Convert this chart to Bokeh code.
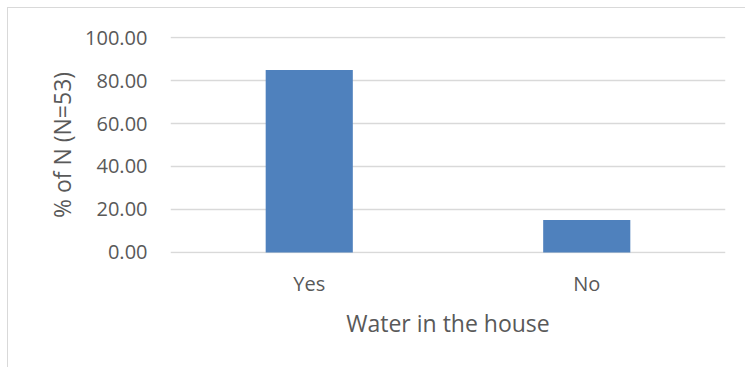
from bokeh.plotting import figure
from bokeh.models import ColumnDataSource, Range1d, FactorRange, NumeralTickFormatter, FixedTicker
from bokeh.embed import file_html
from bokeh.resources import INLINE

# Survey answers: share of respondents (N=53) with water in the house
categories = ["Yes", "No"]
percent = [84.91, 15.09]
y_ticks = [0, 20, 40, 60, 80, 100]

FONT = "Open Sans"
TEXT = "#595959"
GRID = "#d9d9d9"
BAR = "#4f81bd"

source = ColumnDataSource(data=dict(category=categories, percent=percent))

p = figure(
    width=738, height=360,
    x_range=FactorRange(*categories, range_padding=0),
    y_range=Range1d(-0.5, 100.5),
    output_backend="svg", toolbar_location=None,
    min_border_left=162, min_border_right=21,
    min_border_top=28, min_border_bottom=115,
)
# light chart-area border along the top and left edges
p.styles = {
    "margin-left": "7px", "margin-top": "7px",
    "border-left": f"1px solid {GRID}", "border-top": f"1px solid {GRID}",
}

p.vbar(x="category", top="percent", bottom=0, width=0.314, source=source,
       fill_color=BAR, line_color=None)

p.outline_line_color = None
p.background_fill_color = "white"
p.border_fill_color = "white"

p.xgrid.grid_line_color = None
p.ygrid.grid_line_color = GRID
p.ygrid.grid_line_width = 1.3
p.yaxis.ticker = FixedTicker(ticks=y_ticks)
p.yaxis.formatter = NumeralTickFormatter(format="0.00")

for ax in (p.xaxis[0], p.yaxis[0]):
    ax.axis_line_color = None
    ax.major_tick_line_color = None
    ax.minor_tick_line_color = None
    ax.major_tick_out = 0
    ax.major_tick_in = 0
    ax.major_label_text_font = FONT
    ax.major_label_text_font_size = "20px"
    ax.major_label_text_color = TEXT
    ax.axis_label_text_font = FONT
    ax.axis_label_text_font_size = "23px"
    ax.axis_label_text_color = TEXT
    ax.axis_label_text_font_style = "normal"

p.yaxis.axis_label = "% of N (N=53)"
p.yaxis.major_label_standoff = 23
p.yaxis.axis_label_standoff = 4
p.xaxis.axis_label = "Water in the house"
p.xaxis.major_label_standoff = 16
p.xaxis.axis_label_standoff = 7

open("out.html", "w").write(file_html(p, INLINE))
